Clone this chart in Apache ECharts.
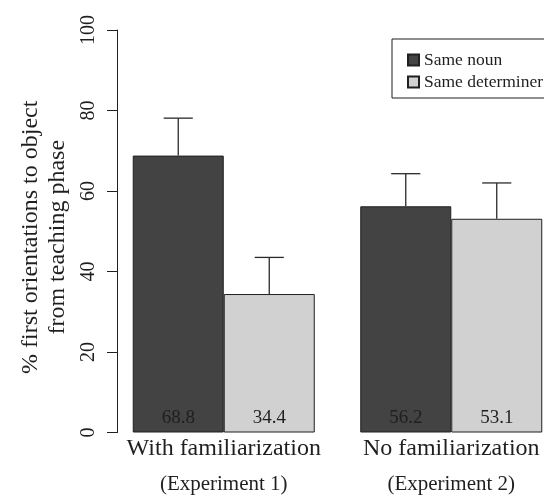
<!DOCTYPE html>
<html>
<head>
<meta charset="utf-8">
<script src="https://cdn.jsdelivr.net/npm/echarts@6/dist/echarts.min.js"></script>
<style>
  html, body { margin: 0; padding: 0; background: #fff; }
  #chart { width: 544px; height: 496px; }
</style>
</head>
<body>
<div id="chart"></div>
<script>
// Data
const groups = ['With familiarization', 'No familiarization'];
const experiments = ['(Experiment 1)', '(Experiment 2)'];
const seriesNames = ['Same noun', 'Same determiner'];
const sameNoun = [68.8, 56.2];
const sameDeterminer = [34.4, 53.1];
const sameNounUpper = [78.1, 64.3];
const sameDeterminerUpper = [43.5, 62.0];

(function() {
  const chartDom = document.getElementById('chart');
  const chart = echarts.init(chartDom, null, { renderer: 'canvas' });

  const font = '"Liberation Serif", "Times New Roman", serif';
  const ink = '#1f1f1f';
  const darkFill = '#434343';
  const lightFill = '#d0d1d0';

  // rows for the error bars: [category, bar value, upper end, side]
  const errRows = [];
  sameNoun.forEach((v, i) => errRows.push([i, v, sameNounUpper[i], -1]));
  sameDeterminer.forEach((v, i) => errRows.push([i, v, sameDeterminerUpper[i], 1]));

  const barLabel = {
    show: true,
    position: 'insideBottom',
    distance: 5,
    color: ink,
    fontFamily: font,
    fontSize: 19,
    formatter: p => p.value.toFixed(1)
  };

  const option = {
    backgroundColor: '#fff',
    animation: false,
    // the plot runs past the right edge, like the cropped original
    grid: { left: 110, width: 455, top: 30, bottom: 63.5, outerBoundsMode: 'none', containLabel: false },
    legend: {
      data: seriesNames,
      orient: 'vertical',
      left: 392,
      top: 39,
      padding: [12, 4, 7, 15],
      itemWidth: 11,
      itemHeight: 11,
      itemGap: 4,
      icon: 'rect',
      borderColor: ink,
      borderWidth: 1,
      textStyle: { fontFamily: font, fontSize: 17.5, color: ink, lineHeight: 17 }
    },
    xAxis: {
      type: 'category',
      data: groups,
      axisLine: { show: false },
      axisTick: { show: false },
      axisLabel: {
        margin: 3,
        interval: 0,
        formatter: (value, idx) => '{a|' + value + '}\n{b|' + experiments[idx] + '}',
        rich: {
          a: { fontFamily: font, fontSize: 24, lineHeight: 26, color: ink },
          b: { fontFamily: font, fontSize: 21, lineHeight: 46, color: ink }
        }
      }
    },
    yAxis: {
      type: 'value',
      min: 0,
      max: 100,
      interval: 20,
      offset: -7,
      name: '% first orientations to object\nfrom teaching phase',
      nameLocation: 'middle',
      nameGap: 46,
      nameTextStyle: { fontFamily: font, fontSize: 24, lineHeight: 27, color: ink, padding: [0, 12, 0, 0] },
      axisLine: { show: true, lineStyle: { color: ink, width: 1 } },
      axisTick: { show: true, length: 10, lineStyle: { color: ink, width: 1 } },
      axisLabel: { rotate: 90, margin: 18, fontFamily: font, fontSize: 20, color: ink },
      splitLine: { show: false }
    },
    series: [
      {
        name: seriesNames[0],
        type: 'bar',
        data: sameNoun,
        barGap: 0,
        barCategoryGap: '20%',
        itemStyle: { color: darkFill, borderColor: ink, borderWidth: 1 },
        label: barLabel
      },
      {
        name: seriesNames[1],
        type: 'bar',
        data: sameDeterminer,
        barGap: 0,
        barCategoryGap: '20%',
        itemStyle: { color: lightFill, borderColor: ink, borderWidth: 1 },
        label: barLabel
      },
      {
        name: 'error',
        type: 'custom',
        data: errRows,
        encode: { x: 0, y: [1, 2] },
        z: 5,
        renderItem: (params, api) => {
          const cat = api.value(0);
          const base = api.coord([cat, api.value(1)]);
          const top = api.coord([cat, api.value(2)]);
          const barW = api.size([1, 0])[0] * 0.4;
          const x = base[0] + api.value(3) * barW / 2;
          const half = barW * 0.16;
          const style = { stroke: '#2a2a2a', lineWidth: 1.3 };
          return {
            type: 'group',
            children: [
              { type: 'line', shape: { x1: x, y1: base[1], x2: x, y2: top[1] }, style: style },
              { type: 'line', shape: { x1: x - half, y1: top[1], x2: x + half, y2: top[1] }, style: style }
            ]
          };
        }
      }
    ]
  };

  chart.setOption(option);
})();
</script>
</body>
</html>
